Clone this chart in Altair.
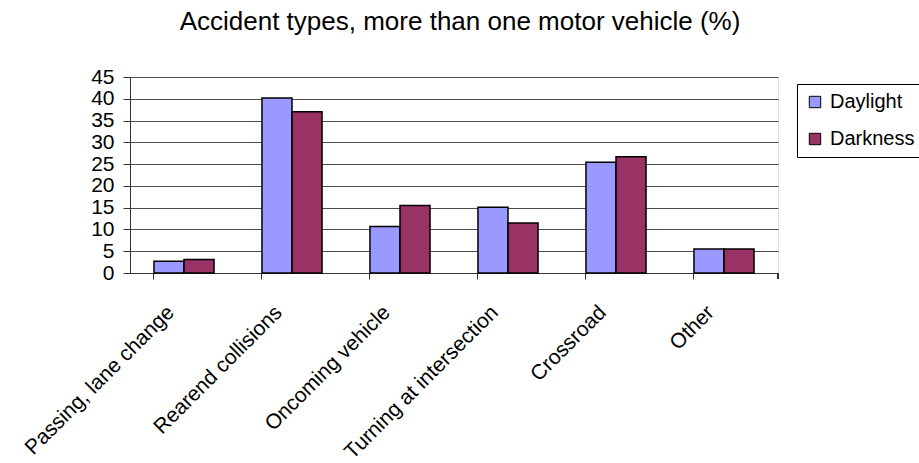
import altair as alt
import pandas as pd

categories = ["Passing, lane change", "Rearend collisions", "Oncoming vehicle",
              "Turning at intersection", "Crossroad", "Other"]
series = ["Daylight", "Darkness"]
daylight = [2.7, 40.2, 10.7, 15.1, 25.4, 5.5]
darkness = [3.1, 37.0, 15.5, 11.5, 26.7, 5.5]
colors = ["#9999FF", "#993366"]

rows = []
for c, d, n in zip(categories, daylight, darkness):
    rows.append({"category": c, "series": "Daylight", "value": d})
    rows.append({"category": c, "series": "Darkness", "value": n})
df = pd.DataFrame(rows)

FONT = "Liberation Sans"

bars = alt.Chart(df).mark_bar(stroke="black", strokeWidth=1.5).encode(
    x=alt.X("category:N", sort=categories, title=None,
            scale=alt.Scale(paddingInner=0.444, paddingOuter=0.222),
            axis=alt.Axis(labelAngle=-45, labelAlign="right", labelBaseline="middle",
                          labelFontSize=21, labelFont=FONT, labelColor="black",
                          labelPadding=30, labelOffset=-13,
                          bandPosition=0, tickSize=6, tickColor="#333333",
                          domainColor="#333333", domainWidth=1, grid=False,
                          labelLimit=400)),
    xOffset=alt.XOffset("series:N", sort=series),
    y=alt.Y("value:Q", title=None,
            scale=alt.Scale(domain=[0, 45], nice=False),
            axis=alt.Axis(values=list(range(0, 50, 5)), labelFontSize=21, labelFont=FONT,
                          labelColor="black", tickSize=7, tickColor="#333333",
                          labelPadding=9, domainColor="#333333", labelOverlap=False,
                          grid=True, gridColor="#4d4d4d", gridWidth=1)),
    color=alt.Color("series:N", sort=series,
                    scale=alt.Scale(domain=series, range=colors),
                    legend=alt.Legend(title=None, orient="none", legendX=667, legendY=7,
                                      symbolType="square", symbolSize=130,
                                      symbolStrokeColor="black", symbolStrokeWidth=1,
                                      labelFontSize=20, labelFont=FONT, labelColor="black",
                                      rowPadding=17, padding=8, strokeColor="black",
                                      labelOffset=5)),
)

end_tick = alt.Chart(df).mark_rule(color="#333333").encode(
    x=alt.value(648), y=alt.value(196), y2=alt.value(202)
)

chart = alt.layer(bars, end_tick).properties(
    width=648, height=196,
    title=alt.TitleParams("Accident types, more than one motor vehicle (%)",
                          font=FONT, fontSize=26, fontWeight="normal", color="black",
                          anchor="middle", baseline="alphabetic", offset=10, dx=6),
    autosize=alt.AutoSizeParams(type="none"),
    padding={"left": 130, "top": 77, "right": 141, "bottom": 190},
).configure_view(stroke=None).configure(background="white")

chart.save("out.html", embed_options={"renderer": "svg", "actions": False})
